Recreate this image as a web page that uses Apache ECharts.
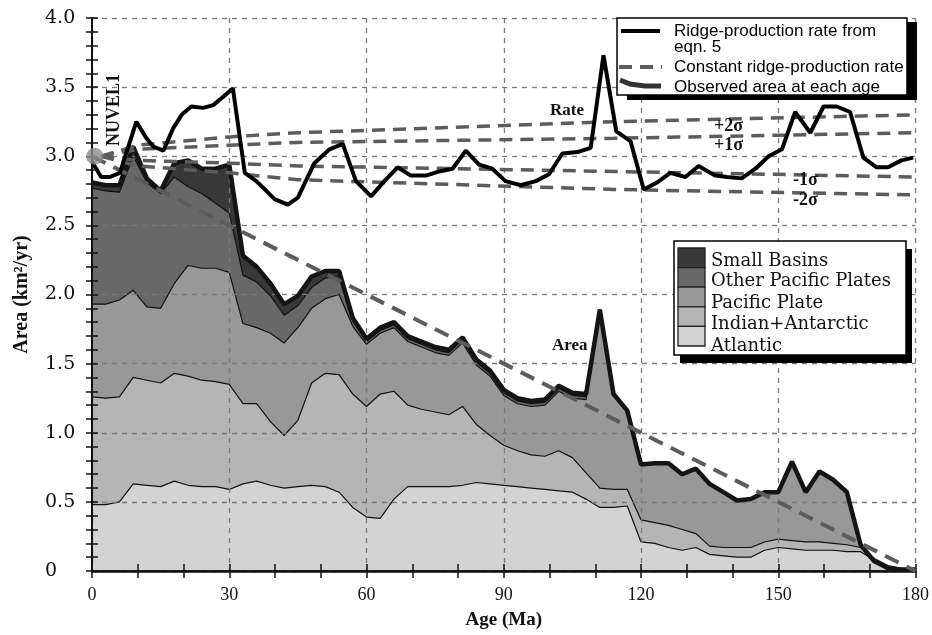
<!DOCTYPE html>
<html>
<head>
<meta charset="utf-8">
<script src="https://cdn.jsdelivr.net/npm/echarts/dist/echarts.min.js"></script>
<style>
  html, body { margin: 0; padding: 0; background: #fff; }
  #chart { width: 932px; height: 635px; }
</style>
</head>
<body>
<div id="chart"></div>
<script>
// ages (Ma) of the area samples
var areaAges = [0, 3, 6, 9, 12, 15, 18, 21, 24, 27, 30, 33, 36, 39, 42, 45, 48, 51, 54, 57, 60,
  63, 66, 69, 72, 75, 78, 81, 84, 87, 90, 93, 96, 99, 102, 105, 108, 111, 114, 117, 120,
  123, 126, 129, 132, 135, 138, 141, 144, 147, 150, 153, 156, 159, 162, 165, 168, 171, 174, 177, 180]

// cumulative tops of each layer (km2/yr)
var atlanticTop = [0.48, 0.48, 0.50, 0.63, 0.62, 0.61, 0.65, 0.62, 0.61, 0.61, 0.59, 0.63, 0.65, 0.62, 0.60, 0.61, 0.62, 0.61, 0.57, 0.46, 0.39,
  0.38, 0.52, 0.61, 0.61, 0.61, 0.61, 0.62, 0.64, 0.63, 0.62, 0.61, 0.60, 0.59, 0.58, 0.57, 0.52, 0.46, 0.46, 0.47, 0.21,
  0.20, 0.17, 0.15, 0.17, 0.12, 0.11, 0.10, 0.10, 0.15, 0.17, 0.16, 0.15, 0.15, 0.15, 0.14, 0.14, 0.08, 0.03, 0.02, 0.01]
var indianTop = [1.26, 1.25, 1.26, 1.40, 1.38, 1.36, 1.43, 1.41, 1.38, 1.37, 1.35, 1.21, 1.21, 1.08, 0.98, 1.09, 1.36, 1.43, 1.42, 1.28, 1.19,
  1.28, 1.30, 1.20, 1.17, 1.15, 1.13, 1.19, 1.06, 0.98, 0.91, 0.87, 0.84, 0.83, 0.87, 0.82, 0.71, 0.60, 0.59, 0.59, 0.37,
  0.35, 0.33, 0.30, 0.27, 0.18, 0.17, 0.17, 0.17, 0.21, 0.23, 0.22, 0.21, 0.21, 0.20, 0.19, 0.17, 0.09, 0.04, 0.02, 0.01]
var pacificTop = [1.93, 1.93, 1.96, 2.03, 1.91, 1.90, 2.08, 2.21, 2.19, 2.19, 2.16, 1.79, 1.76, 1.72, 1.65, 1.76, 1.90, 1.97, 2.00, 1.77, 1.64,
  1.72, 1.76, 1.66, 1.62, 1.58, 1.56, 1.65, 1.49, 1.41, 1.27, 1.21, 1.19, 1.20, 1.30, 1.25, 1.24, 1.89, 1.28, 1.16, 0.77,
  0.78, 0.78, 0.70, 0.74, 0.63, 0.57, 0.51, 0.52, 0.57, 0.57, 0.79, 0.57, 0.72, 0.66, 0.57, 0.19, 0.07, 0.02, 0.01, 0.01]
var otherPacificTop = [2.77, 2.75, 2.74, 3.00, 2.81, 2.73, 2.85, 2.78, 2.73, 2.66, 2.59, 2.14, 2.09, 1.99, 1.85, 1.92, 2.05, 2.12, 2.13, 1.81, 1.66,
  1.74, 1.78, 1.68, 1.64, 1.60, 1.58, 1.67, 1.51, 1.43, 1.29, 1.23, 1.21, 1.22, 1.32, 1.27, 1.26, 1.89, 1.28, 1.16, 0.77,
  0.78, 0.78, 0.70, 0.74, 0.63, 0.57, 0.51, 0.52, 0.57, 0.57, 0.79, 0.57, 0.72, 0.66, 0.57, 0.19, 0.07, 0.02, 0.01, 0.01]
var smallBasinsTop = [2.81, 2.79, 2.79, 3.07, 2.84, 2.75, 2.95, 2.97, 2.91, 2.91, 2.94, 2.28, 2.20, 2.08, 1.93, 1.99, 2.13, 2.17, 2.17, 1.83, 1.68,
  1.76, 1.80, 1.70, 1.66, 1.62, 1.60, 1.69, 1.53, 1.45, 1.31, 1.25, 1.23, 1.24, 1.34, 1.29, 1.28, 1.89, 1.28, 1.16, 0.77,
  0.78, 0.78, 0.70, 0.74, 0.63, 0.57, 0.51, 0.52, 0.57, 0.57, 0.79, 0.57, 0.72, 0.66, 0.57, 0.19, 0.07, 0.02, 0.01, 0.01]

// ridge-production rate from eqn. 5
var rateAges = [0, 2, 3.9, 6.1, 9.7, 11.9, 13.4, 15.6, 17.7, 19.6, 21.7, 24.3, 26.5, 28.3, 30.8, 33.4, 35.9, 38.1, 39.9, 42.8,
  45, 48.6, 51.9, 54.8, 57.7, 61, 63.9, 66.8, 69.7, 73, 75.9, 78.8, 81.7, 84.6, 87.5, 90.4, 93.7, 97, 99.9, 102.8,
  106.1, 109, 111.8, 114.6, 117.7, 120.6, 123.5, 126.4, 129.7, 132.6, 136.2, 138.8, 142, 145, 147.9, 150.8, 153.7, 157, 159.9, 162.8,
  165.7, 168.6, 171.5, 174, 176.9, 179.5]
var rateVals = [2.96, 2.85, 2.85, 2.88, 3.25, 3.13, 3.07, 3.04, 3.20, 3.30, 3.36, 3.35, 3.37, 3.42, 3.49, 2.88, 2.82, 2.75, 2.69, 2.65,
  2.70, 2.95, 3.05, 3.09, 2.82, 2.71, 2.82, 2.92, 2.86, 2.86, 2.89, 2.91, 3.04, 2.94, 2.91, 2.82, 2.79, 2.82, 2.87, 3.02,
  3.03, 3.06, 3.73, 3.18, 3.11, 2.76, 2.81, 2.88, 2.85, 2.93, 2.86, 2.85, 2.84, 2.91, 3.00, 3.05, 3.32, 3.17, 3.36, 3.36,
  3.32, 2.99, 2.92, 2.92, 2.97, 2.99]

// constant ridge-production rate (area line) and the sigma rate lines
var constAges = [0, 180]
var constArea = [3.0, 0.0]
var sigmaAges = [2, 10, 30, 45, 114, 180]
var plus2Sigma = [3.0, 3.08, 3.14, 3.17, 3.25, 3.30]
var plus1Sigma = [3.0, 3.05, 3.08, 3.10, 3.13, 3.17]
var minus1Sigma = [3.0, 2.97, 2.95, 2.93, 2.89, 2.85]
var minus2Sigma = [3.0, 2.93, 2.88, 2.83, 2.76, 2.72]

var nuvel1 = [0.6, 3.0]

var layerNames = ['Small Basins', 'Other Pacific Plates', 'Pacific Plate', 'Indian+Antarctic', 'Atlantic']
var layerColors = ['#383838', '#686868', '#989898', '#b5b5b5', '#d3d3d3']
var layerTops = [smallBasinsTop, otherPacificTop, pacificTop, indianTop, atlanticTop]

function pairs(xs, ys) {
  var out = []
  for (var i = 0; i < xs.length; i++) out.push([xs[i], ys[i]])
  return out
}

var serif = 'Liberation Serif'
var wideSerif = 'DejaVu Serif'
var sans = 'Liberation Sans'

var series = []
// areas drawn from the top boundary downwards so each lower layer covers the one above
for (var k = 0; k < layerTops.length; k++) {
  series.push({
    name: layerNames[k],
    type: 'line',
    data: pairs(areaAges, layerTops[k]),
    symbol: 'none',
    z: 1,
    lineStyle: { color: '#111', width: 1.2 },
    areaStyle: { color: layerColors[k], opacity: 1 },
  })
}
// observed area outline
series.push({
  name: 'Observed area at each age',
  type: 'line',
  data: pairs(areaAges, smallBasinsTop),
  symbol: 'none',
  z: 6,
  lineStyle: { color: '#141414', width: 4.5 },
})
series.push({
  name: 'Constant ridge-production rate',
  type: 'line',
  data: pairs(constAges, constArea),
  symbol: 'none',
  z: 7,
  lineStyle: { color: '#5c5c5c', width: 4, type: [15, 9] },
})
var sig = [plus2Sigma, plus1Sigma, minus1Sigma, minus2Sigma]
for (var s = 0; s < sig.length; s++) {
  series.push({
    type: 'line',
    data: pairs(sigmaAges, sig[s]),
    symbol: 'none',
    z: 7,
    lineStyle: { color: '#5c5c5c', width: 3.5, type: [13, 8] },
  })
}
series.push({
  name: 'Ridge-production rate from eqn. 5',
  type: 'line',
  data: pairs(rateAges, rateVals),
  symbol: 'none',
  z: 8,
  lineStyle: { color: '#000', width: 4 },
})
series.push({
  type: 'scatter',
  data: [nuvel1],
  symbolSize: 17,
  clip: false,
  z: 9,
  itemStyle: { color: '#8c8c8c' },
})

var gridLine = { show: true, lineStyle: { color: '#7a7a7a', width: 1.3, type: [5, 5] } }

var graphics = [
  // rate legend box
  { type: 'rect', shape: { x: 627, y: 22, width: 290, height: 78 }, style: { fill: '#000' }, z: 20 },
  { type: 'rect', shape: { x: 617, y: 18, width: 290, height: 77 }, style: { fill: '#fff', stroke: '#000', lineWidth: 1.5 }, z: 21 },
  { type: 'line', shape: { x1: 621, y1: 31, x2: 660, y2: 31 }, style: { stroke: '#000', lineWidth: 4 }, z: 22 },
  { type: 'line', shape: { x1: 619, y1: 67, x2: 662, y2: 67 }, style: { stroke: '#5c5c5c', lineWidth: 4, lineDash: [13, 8] }, z: 22 },
  { type: 'polyline', shape: { points: [[620, 80], [630, 84], [645, 86], [661, 86]] }, style: { stroke: '#333', lineWidth: 5, fill: null }, z: 22 },
  { type: 'text', left: 674, top: 23, style: { text: 'Ridge-production rate from\neqn. 5', font: '17px ' + sans, fill: '#000', lineHeight: 16 }, z: 22 },
  { type: 'text', left: 674, top: 59, style: { text: 'Constant ridge-production rate', font: '17px ' + sans, fill: '#000' }, z: 22 },
  { type: 'text', left: 674, top: 79, style: { text: 'Observed area at each age', font: '17px ' + sans, fill: '#000' }, z: 22 },
  // layer legend box
  { type: 'rect', shape: { x: 680, y: 249, width: 232, height: 114 }, style: { fill: '#000' }, z: 20 },
  { type: 'rect', shape: { x: 674, y: 241, width: 232, height: 114 }, style: { fill: '#fff', stroke: '#000', lineWidth: 1.5 }, z: 21 },
  // annotations
  { type: 'text', left: 550, top: 102, style: { text: 'Rate', font: 'bold 17px ' + serif, fill: '#111' }, z: 22 },
  { type: 'text', left: 552, top: 337, style: { text: 'Area', font: 'bold 17px ' + serif, fill: '#111' }, z: 22 },
  { type: 'text', left: 714, top: 117, style: { text: '+2σ', font: 'bold 18px ' + serif, fill: '#111' }, z: 22 },
  { type: 'text', left: 714, top: 136, style: { text: '+1σ', font: 'bold 18px ' + serif, fill: '#111' }, z: 22 },
  { type: 'text', left: 793, top: 171, style: { text: '-1σ', font: 'bold 18px ' + serif, fill: '#111' }, z: 22 },
  { type: 'text', left: 793, top: 191, style: { text: '-2σ', font: 'bold 18px ' + serif, fill: '#111' }, z: 22 },
  { type: 'text', x: 114, y: 110, rotation: Math.PI / 2, style: { text: 'NUVEL1', font: 'bold 18px ' + serif, fill: '#111', align: 'center', verticalAlign: 'middle' }, z: 22 },
]
var legendTextY = [261, 281, 303, 324, 346]
for (var j = 0; j < layerNames.length; j++) {
  graphics.push({ type: 'rect', shape: { x: 678, y: 248 + j * 19.6, width: 27, height: 19.6 }, style: { fill: layerColors[j], stroke: '#222', lineWidth: 1.3 }, z: 22 })
  graphics.push({ type: 'text', x: 711, y: legendTextY[j], style: { text: layerNames[j], font: '18px ' + wideSerif, fill: '#111', verticalAlign: 'middle' }, z: 22 })
}

var chart = echarts.init(document.getElementById('chart'))
chart.setOption({
  animation: false,
  backgroundColor: '#fff',
  grid: { left: 92, right: 15, top: 18, bottom: 55 },
  xAxis: [
    {
      type: 'value', min: 0, max: 180, interval: 30, z: 3,
      name: 'Age (Ma)', nameLocation: 'middle', nameGap: 40,
      nameTextStyle: { fontFamily: serif, fontWeight: 'bold', fontSize: 19, color: '#111' },
      axisLine: { lineStyle: { color: '#111', width: 2.5 } },
      axisTick: { inside: true, length: 7, lineStyle: { color: '#111', width: 1.5 } },
      minorTick: { show: true, splitNumber: 3, length: 7, lineStyle: { color: '#111', width: 1.5 } },
      axisLabel: { fontFamily: serif, fontSize: 18, color: '#111', margin: 15 },
      splitLine: gridLine,
    },
    {
      type: 'value', min: 0, max: 180, interval: 30, position: 'top', z: 3,
      axisLine: { lineStyle: { color: '#111', width: 1.5 } },
      axisTick: { inside: true, length: 7, lineStyle: { color: '#111', width: 1.5 } },
      minorTick: { show: true, splitNumber: 3, length: 7, lineStyle: { color: '#111', width: 1.5 } },
      axisLabel: { show: false },
      splitLine: { show: false },
    },
  ],
  yAxis: [
    {
      type: 'value', min: 0, max: 4, interval: 0.5, z: 3,
      name: 'Area (km²/yr)', nameLocation: 'middle', nameGap: 60, nameRotate: 90,
      nameTextStyle: { fontFamily: serif, fontWeight: 'bold', fontSize: 20, color: '#111' },
      axisLine: { lineStyle: { color: '#111', width: 2 } },
      axisTick: { inside: true, length: 6, lineStyle: { color: '#111', width: 1.5 } },
      minorTick: { show: true, splitNumber: 5, length: 6, lineStyle: { color: '#111', width: 1.5 } },
      axisLabel: {
        fontFamily: wideSerif, fontSize: 19, color: '#111', margin: 47, align: 'left',
        formatter: function (v) { return v === 0 ? '0' : v.toFixed(1) },
      },
      splitLine: gridLine,
    },
    {
      type: 'value', min: 0, max: 4, interval: 0.5, position: 'right', z: 3,
      axisLine: { lineStyle: { color: '#111', width: 1.5 } },
      axisTick: { inside: true, length: 6, lineStyle: { color: '#111', width: 1.5 } },
      minorTick: { show: true, splitNumber: 5, length: 6, lineStyle: { color: '#111', width: 1.5 } },
      axisLabel: { show: false },
      splitLine: { show: false },
    },
  ],
  series: series,
  graphic: graphics,
})
</script>
</body>
</html>
